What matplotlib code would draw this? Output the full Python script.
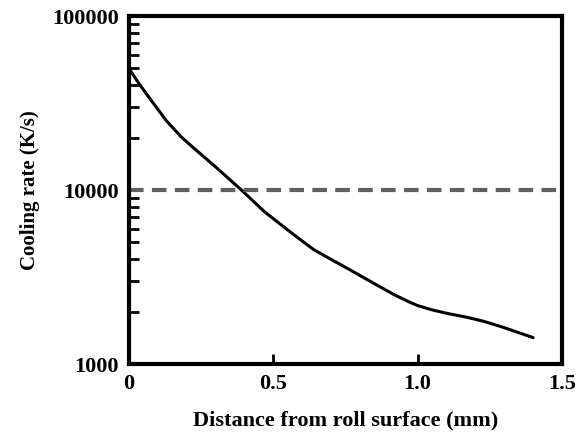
import numpy as np
import matplotlib
matplotlib.use("Agg")
import matplotlib.pyplot as plt
from matplotlib.ticker import LogLocator, NullFormatter, FixedLocator

# distance from roll surface (mm) and cooling rate (K/s)
dist = [0.0, 0.03, 0.07, 0.13, 0.18, 0.22, 0.30, 0.39, 0.47, 0.55, 0.60, 0.64, 0.70, 0.77, 0.85, 0.92, 0.97, 1.0, 1.05, 1.10, 1.17, 1.23, 1.30, 1.4]
rate = [50000, 42000, 34000, 25000, 20300, 17700, 13600, 10000, 7500, 5900, 5100, 4550, 4000, 3450, 2900, 2500, 2280, 2170, 2050, 1960, 1860, 1760, 1620, 1420]
critical_rate = 10000

xticks = [0, 0.5, 1.0, 1.5]
xticklabels = ["0", "0.5", "1.0", "1.5"]
yticks = [1000, 10000, 100000]
yticklabels = ["1000", "10000", "100000"]

plt.rc('font', family='Liberation Serif', weight='bold', size=16)
fig = plt.figure(figsize=(5.86, 4.34), dpi=100)
ax = fig.add_axes([0.220, 0.161, 0.739, 0.802])

ax.plot(dist, rate, color='k', lw=2.2, solid_capstyle='round', solid_joinstyle='round')
ax.axhline(critical_rate, color='#606060', lw=3, ls=(0, (3.5, 2)))

ax.set_yscale('log')
ax.set_xlim(0, 1.5)
ax.set_ylim(1000, 100000)

ax.xaxis.set_major_locator(FixedLocator(xticks))
ax.set_xticklabels(xticklabels)
ax.yaxis.set_major_locator(FixedLocator(yticks))
ax.set_yticklabels(yticklabels)
ax.yaxis.set_minor_locator(LogLocator(base=10, subs=np.arange(2, 10)))
ax.yaxis.set_minor_formatter(NullFormatter())

ax.tick_params(axis='both', which='major', direction='in', length=7, width=2, pad=7)
ax.tick_params(axis='y', which='minor', direction='in', length=7, width=2)
ax.tick_params(axis='x', which='minor', length=0)

for s in ax.spines.values():
    s.set_linewidth(3)

ax.set_xlabel("Distance from roll surface (mm)", fontsize=16, fontweight='bold', labelpad=12)
ax.set_ylabel("Cooling rate (K/s)", fontsize=15, fontweight='bold', labelpad=9)

fig.savefig("out.png", dpi=100)
